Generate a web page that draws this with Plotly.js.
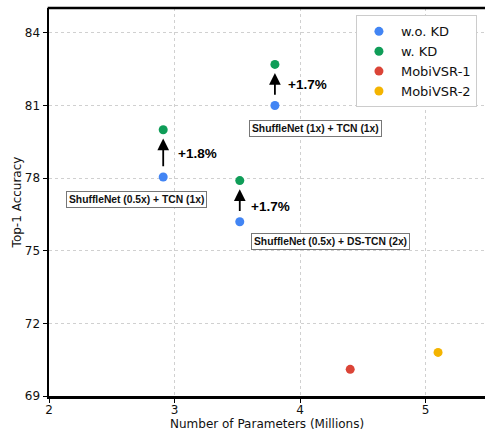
<!DOCTYPE html>
<html>
<head>
<meta charset="utf-8">
<script src="https://cdn.plot.ly/plotly-3.0.1.min.js"></script>
<style>html,body{margin:0;padding:0;background:#fff;}#chart{width:485px;height:430px;}</style>
</head>
<body>
<div id="chart"></div>
<script>
// Data
const woKD_x = [2.91, 3.80, 3.52];
const woKD_y = [78.05, 81.0, 76.2];
const wKD_x = [2.91, 3.80, 3.52];
const wKD_y = [80.0, 82.7, 77.9];
const mobi1_x = [4.4];
const mobi1_y = [70.1];
const mobi2_x = [5.1];
const mobi2_y = [70.8];
const gainLabels = ["+1.8%", "+1.7%", "+1.7%"];
const modelLabels = ["ShuffleNet (0.5x) + TCN (1x)", "ShuffleNet (1x) + TCN (1x)", "ShuffleNet (0.5x) + DS-TCN (2x)"];
const xTicks = [2, 3, 4, 5];
const yTicks = [69, 72, 75, 78, 81, 84];
const xTitle = 'Number of Parameters (Millions)';
const yTitle = 'Top-1 Accuracy';

// positions (layout only)
const gainPos = [[3.01, 79.0], [3.89, 81.85], [3.59, 76.81]];
const labelPos = [[2.70, 77.10], [4.12, 80.07], [4.24, 75.40]];

const mk = (x, y, name, color) => ({
  x, y, name, type: 'scatter', mode: 'markers',
  marker: {color, size: 9, line: {width: 0}},
  cliponaxis: false
});

const traces = [
  mk(woKD_x, woKD_y, 'w.o. KD', '#4285F4'),
  mk(wKD_x, wKD_y, 'w. KD', '#0F9D58'),
  mk(mobi1_x, mobi1_y, 'MobiVSR-1', '#DB4437'),
  mk(mobi2_x, mobi2_y, 'MobiVSR-2', '#F4B400')
];

const annotations = [];
for (let i = 0; i < woKD_x.length; i++) {
  annotations.push({
    x: wKD_x[i], y: wKD_y[i] - 0.36, ax: woKD_x[i], ay: woKD_y[i] + 0.38,
    xref: 'x', yref: 'y', axref: 'x', ayref: 'y',
    text: '', showarrow: true, arrowhead: 2, arrowsize: 1.3, arrowwidth: 1.8, arrowcolor: '#000'
  });
  annotations.push({
    x: gainPos[i][0], y: gainPos[i][1], xref: 'x', yref: 'y', xanchor: 'left', yanchor: 'middle',
    text: '<b>' + gainLabels[i] + '</b>', showarrow: false,
    font: {family: 'Liberation Sans, Arial, sans-serif', size: 13.5, color: '#000'}
  });
  annotations.push({
    x: labelPos[i][0], y: labelPos[i][1], xref: 'x', yref: 'y', xanchor: 'center', yanchor: 'middle',
    text: '<b>' + modelLabels[i] + '</b>', showarrow: false,
    bgcolor: '#fff', bordercolor: '#777', borderwidth: 1, borderpad: 2,
    font: {family: 'Liberation Sans, Arial, sans-serif', size: 10.3, color: '#111'}
  });
}
// x axis title placed below tick labels
annotations.push({
  x: 0.5, y: -0.071, xref: 'paper', yref: 'paper', xanchor: 'center', yanchor: 'middle',
  text: xTitle, showarrow: false, font: {family: 'DejaVu Sans, sans-serif', size: 12, color: '#111'}
});

const layout = {
  width: 485, height: 430,
  margin: {l: 49, r: 0, t: 8, b: 34},
  paper_bgcolor: '#fff', plot_bgcolor: '#fff',
  font: {family: 'DejaVu Sans, sans-serif', size: 12, color: '#111'},
  showlegend: true,
  legend: {
    x: 0.704, y: 0.981, xanchor: 'left', yanchor: 'top',
    bgcolor: '#fff', bordercolor: '#ccc', borderwidth: 1,
    font: {family: 'DejaVu Sans, sans-serif', size: 13, color: '#111'},
    itemwidth: 34
  },
  xaxis: {
    range: [2, 5.474], tickvals: xTicks, ticktext: xTicks.map(String),
    showgrid: true, gridcolor: '#d0d0d0', griddash: 'dot', gridwidth: 1,
    zeroline: false, showline: true, linecolor: '#000', linewidth: 2.5, mirror: false,
    ticks: 'outside', ticklen: 4, tickwidth: 1, tickcolor: '#000',
    ticklabelstandoff: -3,
    tickfont: {size: 12, color: '#111'}
  },
  yaxis: {
    range: [69, 85.03], tickvals: yTicks, ticktext: yTicks.map(String),
    showgrid: true, gridcolor: '#d0d0d0', griddash: 'dot', gridwidth: 1,
    zeroline: false, showline: true, linecolor: '#000', linewidth: 2.5, mirror: false,
    ticks: 'outside', ticklen: 4, tickwidth: 1, tickcolor: '#000',
    tickfont: {size: 12, color: '#111'},
    title: {text: yTitle, font: {size: 12, color: '#111'}, standoff: 1}
  },
  shapes: [{
    type: 'line', xref: 'paper', yref: 'paper', x0: -0.003, x1: 1, y0: 1, y1: 1,
    line: {color: '#000', width: 2.5}
  }],
  annotations
};

Plotly.newPlot('chart', traces, layout, {displayModeBar: false, staticPlot: true});
</script>
</body>
</html>
